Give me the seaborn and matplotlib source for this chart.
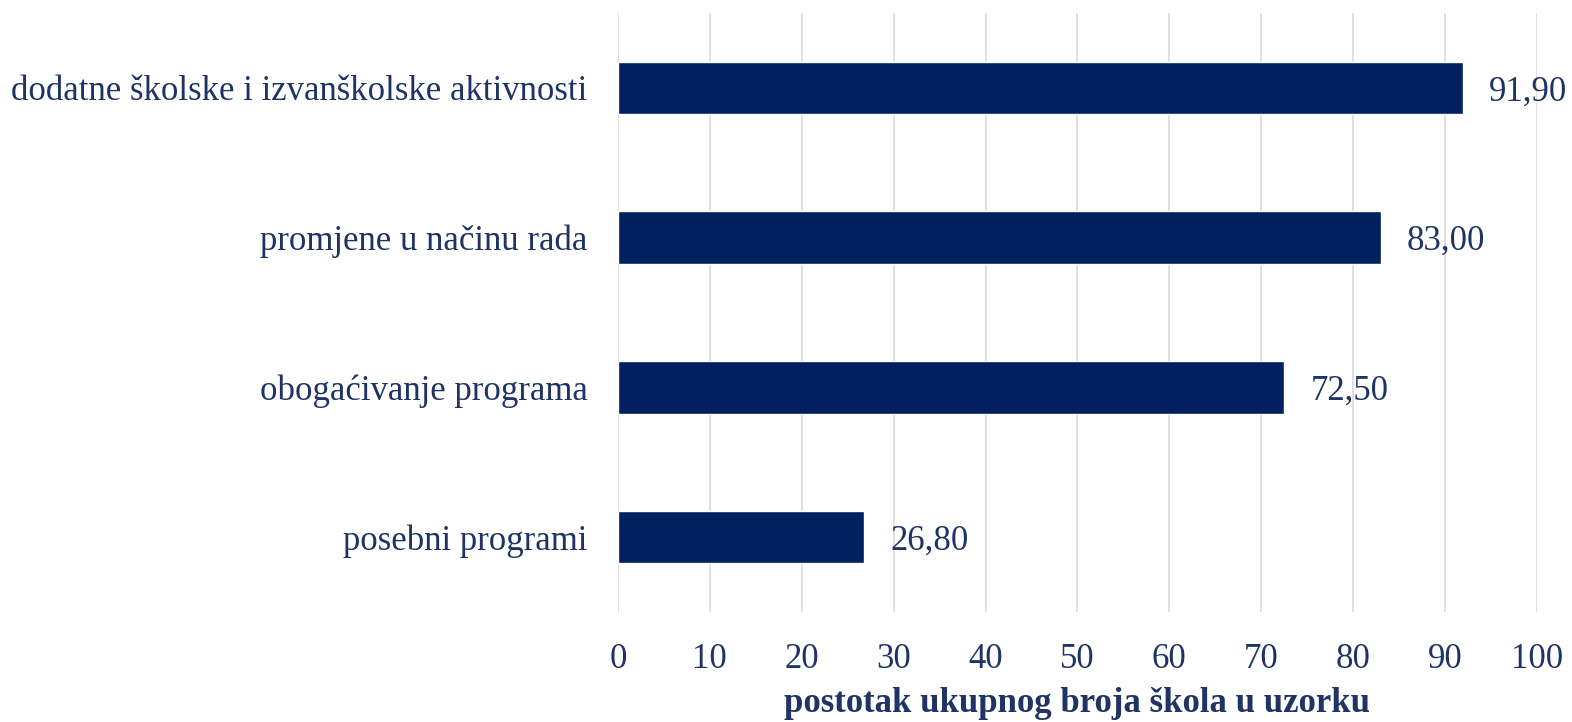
import matplotlib
matplotlib.use("Agg")
import matplotlib.pyplot as plt
import seaborn as sns
import pandas as pd

categories = ["dodatne školske i izvanškolske aktivnosti",
              "promjene u načinu rada",
              "obogaćivanje programa",
              "posebni programi"]
values = [91.90, 83.00, 72.50, 26.80]
xticks = [0, 10, 20, 30, 40, 50, 60, 70, 80, 90, 100]
xlabel = "postotak ukupnog broja škola u uzorku"

df = pd.DataFrame({"kategorija": categories, "vrijednost": values})

sns.set_theme(style="white")
plt.rcParams['font.family'] = ['Liberation Serif', 'DejaVu Serif']

text_color = "#1F3464"
bar_color = "#002060"
fs = 25

fig = plt.figure(figsize=(15.72, 7.22), dpi=100)
ax = fig.add_axes([0.3931, 0.1524, 0.9777 - 0.3931, 0.982 - 0.1524])

sns.barplot(data=df, x="vrijednost", y="kategorija", orient="h",
            color=bar_color, saturation=1, width=0.35, ax=ax, zorder=3)

ax.set_xlim(0, 100)
ax.set_ylim(3.5, -0.5)
ax.set_xticks(xticks)
ax.set_xticklabels([str(t) for t in xticks], fontsize=fs, color=text_color)
ax.tick_params(axis="x", length=0, pad=22)
ax.tick_params(axis="y", length=0, pad=22)
for lbl in ax.get_yticklabels():
    lbl.set_fontsize(fs)
    lbl.set_color(text_color)
    lbl.set_verticalalignment("center_baseline")
ax.grid(axis="x", color="#D9D9D9", linewidth=1.2, zorder=0)
ax.grid(axis="y", visible=False)
for s in ax.spines.values():
    s.set_visible(False)

ax.set_ylabel("")
ax.set_xlabel(xlabel, fontsize=fs, fontweight="bold", color=text_color, labelpad=8)

for i, v in enumerate(values):
    ax.annotate(f"{v:.2f}".replace(".", ","), xy=(v, i), xytext=(19, 0),
                textcoords="offset points", va="center_baseline", ha="left",
                fontsize=fs, color=text_color)

fig.savefig("out.png", dpi=100)
